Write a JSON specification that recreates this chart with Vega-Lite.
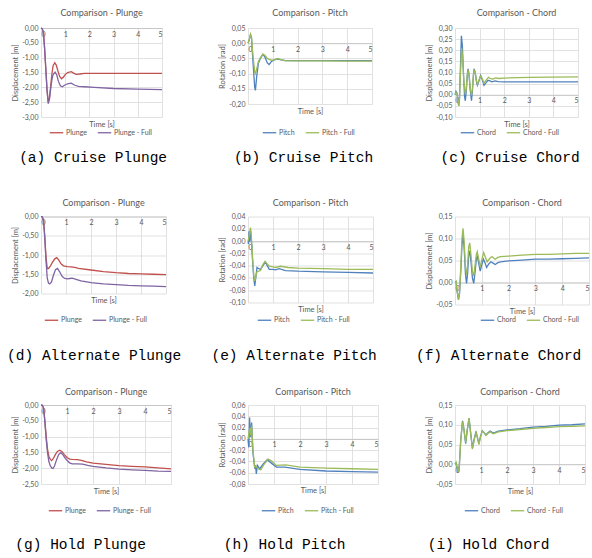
{
"$schema": "https://vega.github.io/schema/vega-lite/v6.json",
"background": "white",
"padding": {"left": 7, "top": 9, "right": 0, "bottom": 0},
"config": {
  "locale": {"number": {"decimal": ",", "thousands": ".", "grouping": [3], "currency": ["", " €"], "minus": "-"}},
  "font": "Lato",
  "view": {"stroke": null},
  "axis": {"labelFontSize": 7, "labelColor": "#595959", "titleFontSize": 7.5, "titleFontWeight": "normal", "titleColor": "#595959", "gridColor": "#d9d9d9", "gridWidth": 0.8, "ticks": false, "domain": false, "labelFont": "Lato", "titleFont": "Lato"},
  "axisX": {"domain": true, "domainColor": "#bfbfbf", "domainWidth": 0.8, "labelPadding": 2, "titleBaseline": "top"},
  "axisY": {"labelPadding": 3, "titlePadding": 2},
  "legend": {"orient": "none", "direction": "horizontal", "title": null, "symbolType": "stroke", "symbolSize": 180, "symbolStrokeWidth": 1.6, "labelFontSize": 7, "labelColor": "#595959", "labelFont": "Lato", "columnPadding": 8, "labelOffset": 2, "padding": 0},
  "title": {"fontSize": 9, "fontWeight": "normal", "color": "#595959", "font": "Lato", "offset": 6},
  "line": {"strokeWidth": 1.3}
},
"datasets": {
"a": [
{"s":"Plunge","t":0,"v":0},{"s":"Plunge","t":0.05,"v":-0.02},{"s":"Plunge","t":0.1,"v":-0.15},{"s":"Plunge","t":0.15,"v":-0.7},{"s":"Plunge","t":0.2,"v":-1.4},{"s":"Plunge","t":0.25,"v":-2.1},{"s":"Plunge","t":0.3,"v":-2.5},{"s":"Plunge","t":0.35,"v":-2.35},{"s":"Plunge","t":0.4,"v":-1.95},{"s":"Plunge","t":0.45,"v":-1.55},{"s":"Plunge","t":0.5,"v":-1.27},{"s":"Plunge","t":0.57,"v":-1.17},{"s":"Plunge","t":0.63,"v":-1.25},{"s":"Plunge","t":0.7,"v":-1.45},{"s":"Plunge","t":0.77,"v":-1.63},{"s":"Plunge","t":0.85,"v":-1.71},{"s":"Plunge","t":0.93,"v":-1.65},{"s":"Plunge","t":1.0,"v":-1.57},{"s":"Plunge","t":1.1,"v":-1.5},{"s":"Plunge","t":1.25,"v":-1.47},{"s":"Plunge","t":1.35,"v":-1.52},{"s":"Plunge","t":1.45,"v":-1.56},{"s":"Plunge","t":1.6,"v":-1.55},{"s":"Plunge","t":1.8,"v":-1.53},{"s":"Plunge","t":2.2,"v":-1.53},{"s":"Plunge","t":3,"v":-1.53},{"s":"Plunge","t":4,"v":-1.53},{"s":"Plunge","t":5,"v":-1.53},
{"s":"Plunge - Full","t":0,"v":0},{"s":"Plunge - Full","t":0.05,"v":-0.02},{"s":"Plunge - Full","t":0.1,"v":-0.15},{"s":"Plunge - Full","t":0.15,"v":-0.7},{"s":"Plunge - Full","t":0.2,"v":-1.4},{"s":"Plunge - Full","t":0.25,"v":-2.1},{"s":"Plunge - Full","t":0.3,"v":-2.55},{"s":"Plunge - Full","t":0.35,"v":-2.4},{"s":"Plunge - Full","t":0.4,"v":-2.05},{"s":"Plunge - Full","t":0.45,"v":-1.75},{"s":"Plunge - Full","t":0.5,"v":-1.57},{"s":"Plunge - Full","t":0.58,"v":-1.49},{"s":"Plunge - Full","t":0.65,"v":-1.58},{"s":"Plunge - Full","t":0.72,"v":-1.8},{"s":"Plunge - Full","t":0.8,"v":-1.95},{"s":"Plunge - Full","t":0.88,"v":-1.98},{"s":"Plunge - Full","t":0.97,"v":-1.93},{"s":"Plunge - Full","t":1.1,"v":-1.88},{"s":"Plunge - Full","t":1.25,"v":-1.86},{"s":"Plunge - Full","t":1.4,"v":-1.93},{"s":"Plunge - Full","t":1.55,"v":-1.97},{"s":"Plunge - Full","t":1.8,"v":-1.98},{"s":"Plunge - Full","t":2.2,"v":-2.0},{"s":"Plunge - Full","t":3,"v":-2.04},{"s":"Plunge - Full","t":4,"v":-2.06},{"s":"Plunge - Full","t":5,"v":-2.08}
],
"b": [
{"s":"Pitch","t":0,"v":0},{"s":"Pitch","t":0.05,"v":0.01},{"s":"Pitch","t":0.1,"v":0.028},{"s":"Pitch","t":0.14,"v":0.02},{"s":"Pitch","t":0.2,"v":-0.06},{"s":"Pitch","t":0.27,"v":-0.145},{"s":"Pitch","t":0.3,"v":-0.155},{"s":"Pitch","t":0.35,"v":-0.11},{"s":"Pitch","t":0.42,"v":-0.065},{"s":"Pitch","t":0.5,"v":-0.05},{"s":"Pitch","t":0.6,"v":-0.037},{"s":"Pitch","t":0.68,"v":-0.045},{"s":"Pitch","t":0.78,"v":-0.065},{"s":"Pitch","t":0.85,"v":-0.07},{"s":"Pitch","t":0.95,"v":-0.06},{"s":"Pitch","t":1.05,"v":-0.055},{"s":"Pitch","t":1.2,"v":-0.052},{"s":"Pitch","t":1.35,"v":-0.055},{"s":"Pitch","t":1.5,"v":-0.057},{"s":"Pitch","t":2,"v":-0.057},{"s":"Pitch","t":3,"v":-0.057},{"s":"Pitch","t":4,"v":-0.057},{"s":"Pitch","t":5,"v":-0.057},
{"s":"Pitch - Full","t":0,"v":0},{"s":"Pitch - Full","t":0.05,"v":0.012},{"s":"Pitch - Full","t":0.1,"v":0.03},{"s":"Pitch - Full","t":0.14,"v":0.02},{"s":"Pitch - Full","t":0.2,"v":-0.04},{"s":"Pitch - Full","t":0.27,"v":-0.095},{"s":"Pitch - Full","t":0.3,"v":-0.1},{"s":"Pitch - Full","t":0.35,"v":-0.085},{"s":"Pitch - Full","t":0.42,"v":-0.06},{"s":"Pitch - Full","t":0.5,"v":-0.048},{"s":"Pitch - Full","t":0.6,"v":-0.036},{"s":"Pitch - Full","t":0.68,"v":-0.04},{"s":"Pitch - Full","t":0.78,"v":-0.05},{"s":"Pitch - Full","t":0.85,"v":-0.053},{"s":"Pitch - Full","t":0.95,"v":-0.056},{"s":"Pitch - Full","t":1.05,"v":-0.055},{"s":"Pitch - Full","t":1.2,"v":-0.051},{"s":"Pitch - Full","t":1.35,"v":-0.055},{"s":"Pitch - Full","t":1.5,"v":-0.057},{"s":"Pitch - Full","t":2,"v":-0.058},{"s":"Pitch - Full","t":3,"v":-0.058},{"s":"Pitch - Full","t":4,"v":-0.059},{"s":"Pitch - Full","t":5,"v":-0.059}
],
"c": [
{"s":"Chord","t":0,"v":0},{"s":"Chord","t":0.04,"v":0.015},{"s":"Chord","t":0.08,"v":0.008},{"s":"Chord","t":0.12,"v":-0.025},{"s":"Chord","t":0.15,"v":-0.05},{"s":"Chord","t":0.18,"v":-0.02},{"s":"Chord","t":0.22,"v":0.12},{"s":"Chord","t":0.26,"v":0.265},{"s":"Chord","t":0.3,"v":0.22},{"s":"Chord","t":0.35,"v":0.08},{"s":"Chord","t":0.39,"v":-0.01},{"s":"Chord","t":0.42,"v":-0.027},{"s":"Chord","t":0.46,"v":0.02},{"s":"Chord","t":0.5,"v":0.09},{"s":"Chord","t":0.53,"v":0.116},{"s":"Chord","t":0.57,"v":0.09},{"s":"Chord","t":0.62,"v":0.02},{"s":"Chord","t":0.67,"v":-0.027},{"s":"Chord","t":0.71,"v":0.02},{"s":"Chord","t":0.75,"v":0.09},{"s":"Chord","t":0.78,"v":0.116},{"s":"Chord","t":0.82,"v":0.1},{"s":"Chord","t":0.87,"v":0.06},{"s":"Chord","t":0.91,"v":0.042},{"s":"Chord","t":0.97,"v":0.06},{"s":"Chord","t":1.04,"v":0.087},{"s":"Chord","t":1.1,"v":0.07},{"s":"Chord","t":1.18,"v":0.042},{"s":"Chord","t":1.25,"v":0.052},{"s":"Chord","t":1.34,"v":0.065},{"s":"Chord","t":1.42,"v":0.062},{"s":"Chord","t":1.5,"v":0.058},{"s":"Chord","t":1.63,"v":0.062},{"s":"Chord","t":1.75,"v":0.059},{"s":"Chord","t":2,"v":0.058},{"s":"Chord","t":3,"v":0.058},{"s":"Chord","t":4,"v":0.058},{"s":"Chord","t":5,"v":0.058},
{"s":"Chord - Full","t":0,"v":0},{"s":"Chord - Full","t":0.04,"v":0.01},{"s":"Chord - Full","t":0.08,"v":0.005},{"s":"Chord - Full","t":0.12,"v":-0.025},{"s":"Chord - Full","t":0.15,"v":-0.05},{"s":"Chord - Full","t":0.18,"v":-0.025},{"s":"Chord - Full","t":0.22,"v":0.09},{"s":"Chord - Full","t":0.27,"v":0.21},{"s":"Chord - Full","t":0.31,"v":0.17},{"s":"Chord - Full","t":0.36,"v":0.06},{"s":"Chord - Full","t":0.42,"v":0.003},{"s":"Chord - Full","t":0.46,"v":0.03},{"s":"Chord - Full","t":0.5,"v":0.09},{"s":"Chord - Full","t":0.54,"v":0.11},{"s":"Chord - Full","t":0.58,"v":0.085},{"s":"Chord - Full","t":0.62,"v":0.025},{"s":"Chord - Full","t":0.67,"v":-0.003},{"s":"Chord - Full","t":0.71,"v":0.03},{"s":"Chord - Full","t":0.75,"v":0.09},{"s":"Chord - Full","t":0.78,"v":0.11},{"s":"Chord - Full","t":0.82,"v":0.1},{"s":"Chord - Full","t":0.87,"v":0.065},{"s":"Chord - Full","t":0.91,"v":0.047},{"s":"Chord - Full","t":0.97,"v":0.065},{"s":"Chord - Full","t":1.05,"v":0.085},{"s":"Chord - Full","t":1.12,"v":0.07},{"s":"Chord - Full","t":1.18,"v":0.052},{"s":"Chord - Full","t":1.26,"v":0.065},{"s":"Chord - Full","t":1.36,"v":0.078},{"s":"Chord - Full","t":1.45,"v":0.072},{"s":"Chord - Full","t":1.55,"v":0.07},{"s":"Chord - Full","t":1.65,"v":0.076},{"s":"Chord - Full","t":1.8,"v":0.073},{"s":"Chord - Full","t":2,"v":0.075},{"s":"Chord - Full","t":3,"v":0.078},{"s":"Chord - Full","t":4,"v":0.079},{"s":"Chord - Full","t":5,"v":0.08}
],
"d": [
{"s":"Plunge","t":0,"v":0},{"s":"Plunge","t":0.05,"v":-0.01},{"s":"Plunge","t":0.1,"v":-0.1},{"s":"Plunge","t":0.15,"v":-0.5},{"s":"Plunge","t":0.2,"v":-1.05},{"s":"Plunge","t":0.25,"v":-1.35},{"s":"Plunge","t":0.3,"v":-1.35},{"s":"Plunge","t":0.38,"v":-1.28},{"s":"Plunge","t":0.45,"v":-1.2},{"s":"Plunge","t":0.55,"v":-1.1},{"s":"Plunge","t":0.63,"v":-1.07},{"s":"Plunge","t":0.7,"v":-1.12},{"s":"Plunge","t":0.8,"v":-1.23},{"s":"Plunge","t":0.9,"v":-1.28},{"s":"Plunge","t":1.05,"v":-1.3},{"s":"Plunge","t":1.2,"v":-1.31},{"s":"Plunge","t":1.35,"v":-1.32},{"s":"Plunge","t":1.5,"v":-1.35},{"s":"Plunge","t":2,"v":-1.39},{"s":"Plunge","t":2.5,"v":-1.43},{"s":"Plunge","t":3,"v":-1.46},{"s":"Plunge","t":3.5,"v":-1.48},{"s":"Plunge","t":4,"v":-1.49},{"s":"Plunge","t":4.5,"v":-1.5},{"s":"Plunge","t":5,"v":-1.51},
{"s":"Plunge - Full","t":0,"v":0},{"s":"Plunge - Full","t":0.05,"v":-0.01},{"s":"Plunge - Full","t":0.1,"v":-0.1},{"s":"Plunge - Full","t":0.15,"v":-0.55},{"s":"Plunge - Full","t":0.2,"v":-1.15},{"s":"Plunge - Full","t":0.25,"v":-1.6},{"s":"Plunge - Full","t":0.3,"v":-1.73},{"s":"Plunge - Full","t":0.35,"v":-1.75},{"s":"Plunge - Full","t":0.42,"v":-1.7},{"s":"Plunge - Full","t":0.5,"v":-1.52},{"s":"Plunge - Full","t":0.58,"v":-1.38},{"s":"Plunge - Full","t":0.66,"v":-1.35},{"s":"Plunge - Full","t":0.74,"v":-1.43},{"s":"Plunge - Full","t":0.85,"v":-1.56},{"s":"Plunge - Full","t":0.95,"v":-1.61},{"s":"Plunge - Full","t":1.05,"v":-1.62},{"s":"Plunge - Full","t":1.15,"v":-1.61},{"s":"Plunge - Full","t":1.25,"v":-1.6},{"s":"Plunge - Full","t":1.4,"v":-1.63},{"s":"Plunge - Full","t":1.6,"v":-1.67},{"s":"Plunge - Full","t":2,"v":-1.72},{"s":"Plunge - Full","t":2.5,"v":-1.75},{"s":"Plunge - Full","t":3,"v":-1.77},{"s":"Plunge - Full","t":3.5,"v":-1.79},{"s":"Plunge - Full","t":4,"v":-1.8},{"s":"Plunge - Full","t":4.5,"v":-1.81},{"s":"Plunge - Full","t":5,"v":-1.82}
],
"e": [
{"s":"Pitch","t":0,"v":0},{"s":"Pitch","t":0.02,"v":-0.005},{"s":"Pitch","t":0.04,"v":0.016},{"s":"Pitch","t":0.07,"v":-0.001},{"s":"Pitch","t":0.1,"v":0.018},{"s":"Pitch","t":0.13,"v":0.005},{"s":"Pitch","t":0.18,"v":-0.03},{"s":"Pitch","t":0.23,"v":-0.06},{"s":"Pitch","t":0.27,"v":-0.073},{"s":"Pitch","t":0.31,"v":-0.06},{"s":"Pitch","t":0.36,"v":-0.043},{"s":"Pitch","t":0.43,"v":-0.045},{"s":"Pitch","t":0.5,"v":-0.046},{"s":"Pitch","t":0.6,"v":-0.04},{"s":"Pitch","t":0.7,"v":-0.034},{"s":"Pitch","t":0.77,"v":-0.04},{"s":"Pitch","t":0.85,"v":-0.046},{"s":"Pitch","t":1.0,"v":-0.046},{"s":"Pitch","t":1.1,"v":-0.047},{"s":"Pitch","t":1.25,"v":-0.045},{"s":"Pitch","t":1.5,"v":-0.048},{"s":"Pitch","t":2,"v":-0.049},{"s":"Pitch","t":3,"v":-0.05},{"s":"Pitch","t":4,"v":-0.051},{"s":"Pitch","t":5,"v":-0.052},
{"s":"Pitch - Full","t":0,"v":0},{"s":"Pitch - Full","t":0.03,"v":0.005},{"s":"Pitch - Full","t":0.06,"v":0.012},{"s":"Pitch - Full","t":0.1,"v":0.022},{"s":"Pitch - Full","t":0.13,"v":0.01},{"s":"Pitch - Full","t":0.18,"v":-0.025},{"s":"Pitch - Full","t":0.23,"v":-0.055},{"s":"Pitch - Full","t":0.27,"v":-0.065},{"s":"Pitch - Full","t":0.31,"v":-0.058},{"s":"Pitch - Full","t":0.36,"v":-0.05},{"s":"Pitch - Full","t":0.43,"v":-0.049},{"s":"Pitch - Full","t":0.5,"v":-0.048},{"s":"Pitch - Full","t":0.6,"v":-0.038},{"s":"Pitch - Full","t":0.68,"v":-0.033},{"s":"Pitch - Full","t":0.76,"v":-0.037},{"s":"Pitch - Full","t":0.85,"v":-0.041},{"s":"Pitch - Full","t":1.0,"v":-0.042},{"s":"Pitch - Full","t":1.1,"v":-0.043},{"s":"Pitch - Full","t":1.3,"v":-0.041},{"s":"Pitch - Full","t":1.6,"v":-0.043},{"s":"Pitch - Full","t":2,"v":-0.044},{"s":"Pitch - Full","t":3,"v":-0.045},{"s":"Pitch - Full","t":4,"v":-0.046},{"s":"Pitch - Full","t":5,"v":-0.046}
],
"f": [
{"s":"Chord","t":0,"v":0},{"s":"Chord","t":0.04,"v":0.001},{"s":"Chord","t":0.08,"v":-0.02},{"s":"Chord","t":0.13,"v":-0.039},{"s":"Chord","t":0.17,"v":-0.025},{"s":"Chord","t":0.22,"v":0.03},{"s":"Chord","t":0.26,"v":0.085},{"s":"Chord","t":0.3,"v":0.106},{"s":"Chord","t":0.34,"v":0.08},{"s":"Chord","t":0.39,"v":0.02},{"s":"Chord","t":0.43,"v":-0.002},{"s":"Chord","t":0.47,"v":0.02},{"s":"Chord","t":0.51,"v":0.06},{"s":"Chord","t":0.55,"v":0.072},{"s":"Chord","t":0.6,"v":0.045},{"s":"Chord","t":0.65,"v":0.01},{"s":"Chord","t":0.7,"v":-0.002},{"s":"Chord","t":0.75,"v":0.025},{"s":"Chord","t":0.8,"v":0.055},{"s":"Chord","t":0.83,"v":0.06},{"s":"Chord","t":0.88,"v":0.045},{"s":"Chord","t":0.94,"v":0.026},{"s":"Chord","t":1.0,"v":0.04},{"s":"Chord","t":1.06,"v":0.053},{"s":"Chord","t":1.12,"v":0.045},{"s":"Chord","t":1.18,"v":0.034},{"s":"Chord","t":1.26,"v":0.042},{"s":"Chord","t":1.34,"v":0.047},{"s":"Chord","t":1.42,"v":0.044},{"s":"Chord","t":1.5,"v":0.041},{"s":"Chord","t":1.6,"v":0.045},{"s":"Chord","t":1.7,"v":0.047},{"s":"Chord","t":2,"v":0.049},{"s":"Chord","t":2.5,"v":0.051},{"s":"Chord","t":3,"v":0.053},{"s":"Chord","t":3.5,"v":0.053},{"s":"Chord","t":4,"v":0.054},{"s":"Chord","t":4.5,"v":0.055},{"s":"Chord","t":5,"v":0.056},
{"s":"Chord - Full","t":0,"v":0},{"s":"Chord - Full","t":0.04,"v":0.003},{"s":"Chord - Full","t":0.08,"v":-0.02},{"s":"Chord - Full","t":0.13,"v":-0.039},{"s":"Chord - Full","t":0.17,"v":-0.02},{"s":"Chord - Full","t":0.22,"v":0.04},{"s":"Chord - Full","t":0.26,"v":0.1},{"s":"Chord - Full","t":0.3,"v":0.123},{"s":"Chord - Full","t":0.34,"v":0.095},{"s":"Chord - Full","t":0.39,"v":0.035},{"s":"Chord - Full","t":0.43,"v":0.017},{"s":"Chord - Full","t":0.47,"v":0.04},{"s":"Chord - Full","t":0.51,"v":0.08},{"s":"Chord - Full","t":0.55,"v":0.09},{"s":"Chord - Full","t":0.6,"v":0.06},{"s":"Chord - Full","t":0.65,"v":0.025},{"s":"Chord - Full","t":0.7,"v":0.015},{"s":"Chord - Full","t":0.75,"v":0.04},{"s":"Chord - Full","t":0.8,"v":0.065},{"s":"Chord - Full","t":0.83,"v":0.07},{"s":"Chord - Full","t":0.88,"v":0.055},{"s":"Chord - Full","t":0.94,"v":0.035},{"s":"Chord - Full","t":1.0,"v":0.052},{"s":"Chord - Full","t":1.07,"v":0.068},{"s":"Chord - Full","t":1.13,"v":0.058},{"s":"Chord - Full","t":1.2,"v":0.047},{"s":"Chord - Full","t":1.3,"v":0.055},{"s":"Chord - Full","t":1.38,"v":0.059},{"s":"Chord - Full","t":1.45,"v":0.055},{"s":"Chord - Full","t":1.5,"v":0.053},{"s":"Chord - Full","t":1.6,"v":0.057},{"s":"Chord - Full","t":1.7,"v":0.059},{"s":"Chord - Full","t":2,"v":0.06},{"s":"Chord - Full","t":2.5,"v":0.062},{"s":"Chord - Full","t":3,"v":0.064},{"s":"Chord - Full","t":3.5,"v":0.064},{"s":"Chord - Full","t":4,"v":0.065},{"s":"Chord - Full","t":4.5,"v":0.066},{"s":"Chord - Full","t":5,"v":0.066}
],
"g": [
{"s":"Plunge","t":0,"v":0},{"s":"Plunge","t":0.05,"v":-0.01},{"s":"Plunge","t":0.1,"v":-0.1},{"s":"Plunge","t":0.15,"v":-0.5},{"s":"Plunge","t":0.2,"v":-1.0},{"s":"Plunge","t":0.25,"v":-1.4},{"s":"Plunge","t":0.3,"v":-1.62},{"s":"Plunge","t":0.36,"v":-1.72},{"s":"Plunge","t":0.41,"v":-1.76},{"s":"Plunge","t":0.47,"v":-1.7},{"s":"Plunge","t":0.55,"v":-1.57},{"s":"Plunge","t":0.63,"v":-1.47},{"s":"Plunge","t":0.72,"v":-1.43},{"s":"Plunge","t":0.8,"v":-1.47},{"s":"Plunge","t":0.9,"v":-1.57},{"s":"Plunge","t":1.0,"v":-1.66},{"s":"Plunge","t":1.1,"v":-1.71},{"s":"Plunge","t":1.2,"v":-1.72},{"s":"Plunge","t":1.4,"v":-1.73},{"s":"Plunge","t":1.55,"v":-1.75},{"s":"Plunge","t":1.75,"v":-1.8},{"s":"Plunge","t":2,"v":-1.84},{"s":"Plunge","t":2.5,"v":-1.88},{"s":"Plunge","t":3,"v":-1.92},{"s":"Plunge","t":3.5,"v":-1.94},{"s":"Plunge","t":4,"v":-1.96},{"s":"Plunge","t":4.5,"v":-1.99},{"s":"Plunge","t":5,"v":-2.02},
{"s":"Plunge - Full","t":0,"v":0},{"s":"Plunge - Full","t":0.05,"v":-0.01},{"s":"Plunge - Full","t":0.1,"v":-0.1},{"s":"Plunge - Full","t":0.15,"v":-0.55},{"s":"Plunge - Full","t":0.2,"v":-1.1},{"s":"Plunge - Full","t":0.25,"v":-1.5},{"s":"Plunge - Full","t":0.3,"v":-1.78},{"s":"Plunge - Full","t":0.36,"v":-1.93},{"s":"Plunge - Full","t":0.42,"v":-2.0},{"s":"Plunge - Full","t":0.46,"v":-2.01},{"s":"Plunge - Full","t":0.52,"v":-1.93},{"s":"Plunge - Full","t":0.6,"v":-1.73},{"s":"Plunge - Full","t":0.68,"v":-1.57},{"s":"Plunge - Full","t":0.76,"v":-1.51},{"s":"Plunge - Full","t":0.84,"v":-1.57},{"s":"Plunge - Full","t":0.92,"v":-1.67},{"s":"Plunge - Full","t":1.0,"v":-1.75},{"s":"Plunge - Full","t":1.1,"v":-1.83},{"s":"Plunge - Full","t":1.2,"v":-1.86},{"s":"Plunge - Full","t":1.4,"v":-1.86},{"s":"Plunge - Full","t":1.6,"v":-1.87},{"s":"Plunge - Full","t":1.8,"v":-1.91},{"s":"Plunge - Full","t":2,"v":-1.94},{"s":"Plunge - Full","t":2.5,"v":-1.99},{"s":"Plunge - Full","t":3,"v":-2.03},{"s":"Plunge - Full","t":3.5,"v":-2.05},{"s":"Plunge - Full","t":4,"v":-2.07},{"s":"Plunge - Full","t":4.5,"v":-2.09},{"s":"Plunge - Full","t":5,"v":-2.1}
],
"h": [
{"s":"Pitch","t":0,"v":0},{"s":"Pitch","t":0.03,"v":-0.015},{"s":"Pitch","t":0.06,"v":0.038},{"s":"Pitch","t":0.1,"v":0.003},{"s":"Pitch","t":0.14,"v":0.029},{"s":"Pitch","t":0.19,"v":-0.024},{"s":"Pitch","t":0.26,"v":-0.053},{"s":"Pitch","t":0.29,"v":-0.047},{"s":"Pitch","t":0.32,"v":-0.062},{"s":"Pitch","t":0.36,"v":-0.047},{"s":"Pitch","t":0.45,"v":-0.053},{"s":"Pitch","t":0.58,"v":-0.045},{"s":"Pitch","t":0.74,"v":-0.037},{"s":"Pitch","t":0.9,"v":-0.043},{"s":"Pitch","t":1.09,"v":-0.05},{"s":"Pitch","t":1.41,"v":-0.05},{"s":"Pitch","t":2,"v":-0.054},{"s":"Pitch","t":3,"v":-0.057},{"s":"Pitch","t":4,"v":-0.058},{"s":"Pitch","t":5,"v":-0.059},
{"s":"Pitch - Full","t":0,"v":0},{"s":"Pitch - Full","t":0.04,"v":0.012},{"s":"Pitch - Full","t":0.08,"v":0.02},{"s":"Pitch - Full","t":0.1,"v":0.006},{"s":"Pitch - Full","t":0.14,"v":0.023},{"s":"Pitch - Full","t":0.19,"v":-0.021},{"s":"Pitch - Full","t":0.26,"v":-0.05},{"s":"Pitch - Full","t":0.32,"v":-0.049},{"s":"Pitch - Full","t":0.38,"v":-0.053},{"s":"Pitch - Full","t":0.49,"v":-0.055},{"s":"Pitch - Full","t":0.62,"v":-0.045},{"s":"Pitch - Full","t":0.77,"v":-0.036},{"s":"Pitch - Full","t":0.9,"v":-0.039},{"s":"Pitch - Full","t":1.09,"v":-0.047},{"s":"Pitch - Full","t":1.45,"v":-0.046},{"s":"Pitch - Full","t":2,"v":-0.05},{"s":"Pitch - Full","t":3,"v":-0.052},{"s":"Pitch - Full","t":4,"v":-0.053},{"s":"Pitch - Full","t":5,"v":-0.054}
],
"i": [
{"s":"Chord","t":0,"v":0},{"s":"Chord","t":0.04,"v":0.003},{"s":"Chord","t":0.08,"v":-0.01},{"s":"Chord","t":0.13,"v":-0.022},{"s":"Chord","t":0.17,"v":0.0},{"s":"Chord","t":0.22,"v":0.06},{"s":"Chord","t":0.29,"v":0.11},{"s":"Chord","t":0.34,"v":0.09},{"s":"Chord","t":0.41,"v":0.052},{"s":"Chord","t":0.47,"v":0.085},{"s":"Chord","t":0.54,"v":0.116},{"s":"Chord","t":0.6,"v":0.08},{"s":"Chord","t":0.67,"v":0.041},{"s":"Chord","t":0.74,"v":0.065},{"s":"Chord","t":0.81,"v":0.083},{"s":"Chord","t":0.87,"v":0.065},{"s":"Chord","t":0.92,"v":0.052},{"s":"Chord","t":0.98,"v":0.07},{"s":"Chord","t":1.05,"v":0.085},{"s":"Chord","t":1.12,"v":0.08},{"s":"Chord","t":1.19,"v":0.074},{"s":"Chord","t":1.27,"v":0.08},{"s":"Chord","t":1.35,"v":0.084},{"s":"Chord","t":1.47,"v":0.079},{"s":"Chord","t":1.67,"v":0.084},{"s":"Chord","t":2,"v":0.087},{"s":"Chord","t":2.5,"v":0.09},{"s":"Chord","t":3,"v":0.094},{"s":"Chord","t":3.5,"v":0.096},{"s":"Chord","t":4,"v":0.099},{"s":"Chord","t":4.5,"v":0.1},{"s":"Chord","t":5,"v":0.102},
{"s":"Chord - Full","t":0,"v":0},{"s":"Chord - Full","t":0.04,"v":0.005},{"s":"Chord - Full","t":0.08,"v":-0.008},{"s":"Chord - Full","t":0.13,"v":-0.02},{"s":"Chord - Full","t":0.17,"v":0.0},{"s":"Chord - Full","t":0.22,"v":0.06},{"s":"Chord - Full","t":0.29,"v":0.108},{"s":"Chord - Full","t":0.34,"v":0.09},{"s":"Chord - Full","t":0.41,"v":0.055},{"s":"Chord - Full","t":0.47,"v":0.088},{"s":"Chord - Full","t":0.54,"v":0.117},{"s":"Chord - Full","t":0.6,"v":0.08},{"s":"Chord - Full","t":0.67,"v":0.038},{"s":"Chord - Full","t":0.74,"v":0.062},{"s":"Chord - Full","t":0.81,"v":0.08},{"s":"Chord - Full","t":0.87,"v":0.065},{"s":"Chord - Full","t":0.92,"v":0.05},{"s":"Chord - Full","t":0.98,"v":0.07},{"s":"Chord - Full","t":1.05,"v":0.084},{"s":"Chord - Full","t":1.12,"v":0.08},{"s":"Chord - Full","t":1.19,"v":0.073},{"s":"Chord - Full","t":1.27,"v":0.078},{"s":"Chord - Full","t":1.35,"v":0.082},{"s":"Chord - Full","t":1.47,"v":0.077},{"s":"Chord - Full","t":1.67,"v":0.082},{"s":"Chord - Full","t":2,"v":0.085},{"s":"Chord - Full","t":2.5,"v":0.088},{"s":"Chord - Full","t":3,"v":0.091},{"s":"Chord - Full","t":3.5,"v":0.093},{"s":"Chord - Full","t":4,"v":0.095},{"s":"Chord - Full","t":4.5,"v":0.096},{"s":"Chord - Full","t":5,"v":0.097}
]
},
"columns": 3,
"bounds": "flush",
"spacing": {"row": 188.5, "column": 207},
"resolve": {"scale": {"color": "independent"}, "legend": {"color": "independent"}},
"concat": [
{"title": {"text": "(a) Cruise Plunge", "orient": "bottom", "anchor": "middle", "font": "Liberation Mono", "fontSize": 14.5, "color": "#000000", "offset": 15, "dx": 5},
 "vconcat": [{"title": {"text": "Comparison - Plunge", "offset": 6}, "width": 121, "height": 89, "data": {"name": "a"}, "mark": "line",
  "encoding": {
   "x": {"field": "t", "type": "quantitative", "scale": {"domain": [0, 5], "nice": false}, "axis": {"title": "Time [s]", "values": [0,1,2,3,4,5], "format": "d", "offset": -89, "titleY": 92}},
   "y": {"field": "v", "type": "quantitative", "scale": {"domain": [-3, 0], "nice": false}, "axis": {"title": "Displacement [m]", "values": [-3,-2.5,-2,-1.5,-1,-0.5,0], "format": ".2f"}},
   "color": {"field": "s", "type": "nominal", "scale": {"domain": ["Plunge", "Plunge - Full"], "range": ["#c0504d", "#8064a2"]}, "legend": {"legendX": 8, "legendY": 97}}}}]},
{"title": {"text": "(b) Cruise Pitch", "orient": "bottom", "anchor": "middle", "font": "Liberation Mono", "fontSize": 14.5, "color": "#000000", "offset": 15, "dx": 7},
 "vconcat": [{"title": {"text": "Comparison - Pitch", "offset": 6}, "width": 124, "height": 76, "data": {"name": "b"}, "mark": "line",
  "encoding": {
   "x": {"field": "t", "type": "quantitative", "scale": {"domain": [0, 5], "nice": false}, "axis": {"title": "Time [s]", "values": [0,1,2,3,4,5], "format": "d", "offset": -60.8, "titleY": 64}},
   "y": {"field": "v", "type": "quantitative", "scale": {"domain": [-0.2, 0.05], "nice": false}, "axis": {"title": "Rotation [rad]", "values": [-0.2,-0.15,-0.1,-0.05,0,0.05], "format": ".2f"}},
   "color": {"field": "s", "type": "nominal", "scale": {"domain": ["Pitch", "Pitch - Full"], "range": ["#4f81bd", "#9bbb59"]}, "legend": {"legendX": 14, "legendY": 97}}}}]},
{"title": {"text": "(c) Cruise Chord", "orient": "bottom", "anchor": "middle", "font": "Liberation Mono", "fontSize": 14.5, "color": "#000000", "offset": 15, "dx": 7},
 "vconcat": [{"title": {"text": "Comparison - Chord", "offset": 6}, "width": 123, "height": 89, "data": {"name": "c"}, "mark": "line",
  "encoding": {
   "x": {"field": "t", "type": "quantitative", "scale": {"domain": [0, 5], "nice": false}, "axis": {"title": "Time [s]", "values": [0,1,2,3,4,5], "format": "d", "offset": -22.25, "titleY": 26}},
   "y": {"field": "v", "type": "quantitative", "scale": {"domain": [-0.1, 0.3], "nice": false}, "axis": {"title": "Displacement [m]", "values": [-0.1,-0.05,0,0.05,0.1,0.15,0.2,0.25,0.3], "format": ".2f"}},
   "color": {"field": "s", "type": "nominal", "scale": {"domain": ["Chord", "Chord - Full"], "range": ["#4f81bd", "#9bbb59"]}, "legend": {"legendX": 5, "legendY": 97}}}}]},
{"title": {"text": "(d) Alternate Plunge", "orient": "bottom", "anchor": "middle", "font": "Liberation Mono", "fontSize": 14.5, "color": "#000000", "offset": 25, "dx": 4},
 "vconcat": [{"title": {"text": "Comparison - Plunge", "offset": 5}, "width": 125, "height": 77, "data": {"name": "d"}, "mark": "line",
  "encoding": {
   "x": {"field": "t", "type": "quantitative", "scale": {"domain": [0, 5], "nice": false}, "axis": {"title": "Time [s]", "values": [0,1,2,3,4,5], "format": "d", "offset": -77, "titleY": 80}},
   "y": {"field": "v", "type": "quantitative", "scale": {"domain": [-2, 0], "nice": false}, "axis": {"title": "Displacement [m]", "values": [-2,-1.5,-1,-0.5,0], "format": ".2f"}},
   "color": {"field": "s", "type": "nominal", "scale": {"domain": ["Plunge", "Plunge - Full"], "range": ["#c0504d", "#8064a2"]}, "legend": {"legendX": 3, "legendY": 96}}}}]},
{"title": {"text": "(e) Alternate Pitch", "orient": "bottom", "anchor": "middle", "font": "Liberation Mono", "fontSize": 14.5, "color": "#000000", "offset": 25, "dx": -3},
 "vconcat": [{"title": {"text": "Comparison - Pitch", "offset": 5}, "width": 125, "height": 86, "data": {"name": "e"}, "mark": "line",
  "encoding": {
   "x": {"field": "t", "type": "quantitative", "scale": {"domain": [0, 5], "nice": false}, "axis": {"title": "Time [s]", "values": [0,1,2,3,4,5], "format": "d", "offset": -61.4, "titleY": 64}},
   "y": {"field": "v", "type": "quantitative", "scale": {"domain": [-0.1, 0.04], "nice": false}, "axis": {"title": "Rotation [rad]", "values": [-0.1,-0.08,-0.06,-0.04,-0.02,0,0.02,0.04], "format": ".2f"}},
   "color": {"field": "s", "type": "nominal", "scale": {"domain": ["Pitch", "Pitch - Full"], "range": ["#4f81bd", "#9bbb59"]}, "legend": {"legendX": 9, "legendY": 96}}}}]},
{"title": {"text": "(f) Alternate Chord", "orient": "bottom", "anchor": "middle", "font": "Liberation Mono", "fontSize": 14.5, "color": "#000000", "offset": 25, "dx": -10},
 "vconcat": [{"title": {"text": "Comparison - Chord", "offset": 5}, "width": 134, "height": 88, "data": {"name": "f"}, "mark": "line",
  "encoding": {
   "x": {"field": "t", "type": "quantitative", "scale": {"domain": [0, 5], "nice": false}, "axis": {"title": "Time [s]", "values": [0,1,2,3,4,5], "format": "d", "offset": -22, "titleY": 25}},
   "y": {"field": "v", "type": "quantitative", "scale": {"domain": [-0.05, 0.15], "nice": false}, "axis": {"title": "Displacement [m]", "values": [-0.05,0,0.05,0.1,0.15], "format": ".2f"}},
   "color": {"field": "s", "type": "nominal", "scale": {"domain": ["Chord", "Chord - Full"], "range": ["#4f81bd", "#9bbb59"]}, "legend": {"legendX": 25, "legendY": 96}}}}]},
{"title": {"text": "(g) Hold Plunge", "orient": "bottom", "anchor": "middle", "font": "Liberation Mono", "fontSize": 14.5, "color": "#000000", "offset": 24, "dx": -12},
 "vconcat": [{"title": {"text": "Comparison - Plunge", "offset": 4}, "width": 130, "height": 79, "data": {"name": "g"}, "mark": "line",
  "encoding": {
   "x": {"field": "t", "type": "quantitative", "scale": {"domain": [0, 5], "nice": false}, "axis": {"title": "Time [s]", "values": [0,1,2,3,4,5], "format": "d", "offset": -79, "titleY": 82}},
   "y": {"field": "v", "type": "quantitative", "scale": {"domain": [-2.5, 0], "nice": false}, "axis": {"title": "Displacement [m]", "values": [-2.5,-2,-1.5,-1,-0.5,0], "format": ".2f"}},
   "color": {"field": "s", "type": "nominal", "scale": {"domain": ["Plunge", "Plunge - Full"], "range": ["#c0504d", "#8064a2"]}, "legend": {"legendX": 7, "legendY": 98}}}}]},
{"title": {"text": "(h) Hold Pitch", "orient": "bottom", "anchor": "middle", "font": "Liberation Mono", "fontSize": 14.5, "color": "#000000", "offset": 24, "dx": -15},
 "vconcat": [{"title": {"text": "Comparison - Pitch", "offset": 4}, "width": 130, "height": 79, "data": {"name": "h"}, "mark": "line",
  "encoding": {
   "x": {"field": "t", "type": "quantitative", "scale": {"domain": [0, 5], "nice": false}, "axis": {"title": "Time [s]", "values": [0,1,2,3,4,5], "format": "d", "offset": -45.1, "titleY": 48}},
   "y": {"field": "v", "type": "quantitative", "scale": {"domain": [-0.08, 0.06], "nice": false}, "axis": {"title": "Rotation [rad]", "values": [-0.08,-0.06,-0.04,-0.02,0,0.02,0.04,0.06], "format": ".2f"}},
   "color": {"field": "s", "type": "nominal", "scale": {"domain": ["Pitch", "Pitch - Full"], "range": ["#4f81bd", "#9bbb59"]}, "legend": {"legendX": 13, "legendY": 98}}}}]},
{"title": {"text": "(i) Hold Chord", "orient": "bottom", "anchor": "middle", "font": "Liberation Mono", "fontSize": 14.5, "color": "#000000", "offset": 24, "dx": -18},
 "vconcat": [{"title": {"text": "Comparison - Chord", "offset": 4}, "width": 130, "height": 79, "data": {"name": "i"}, "mark": "line",
  "encoding": {
   "x": {"field": "t", "type": "quantitative", "scale": {"domain": [0, 5], "nice": false}, "axis": {"title": "Time [s]", "values": [0,1,2,3,4,5], "format": "d", "offset": -19.75, "titleY": 23}},
   "y": {"field": "v", "type": "quantitative", "scale": {"domain": [-0.05, 0.15], "nice": false}, "axis": {"title": "Displacement [m]", "values": [-0.05,0,0.05,0.1,0.15], "format": ".2f"}},
   "color": {"field": "s", "type": "nominal", "scale": {"domain": ["Chord", "Chord - Full"], "range": ["#4f81bd", "#9bbb59"]}, "legend": {"legendX": 9, "legendY": 98}}}}]}
]
}
